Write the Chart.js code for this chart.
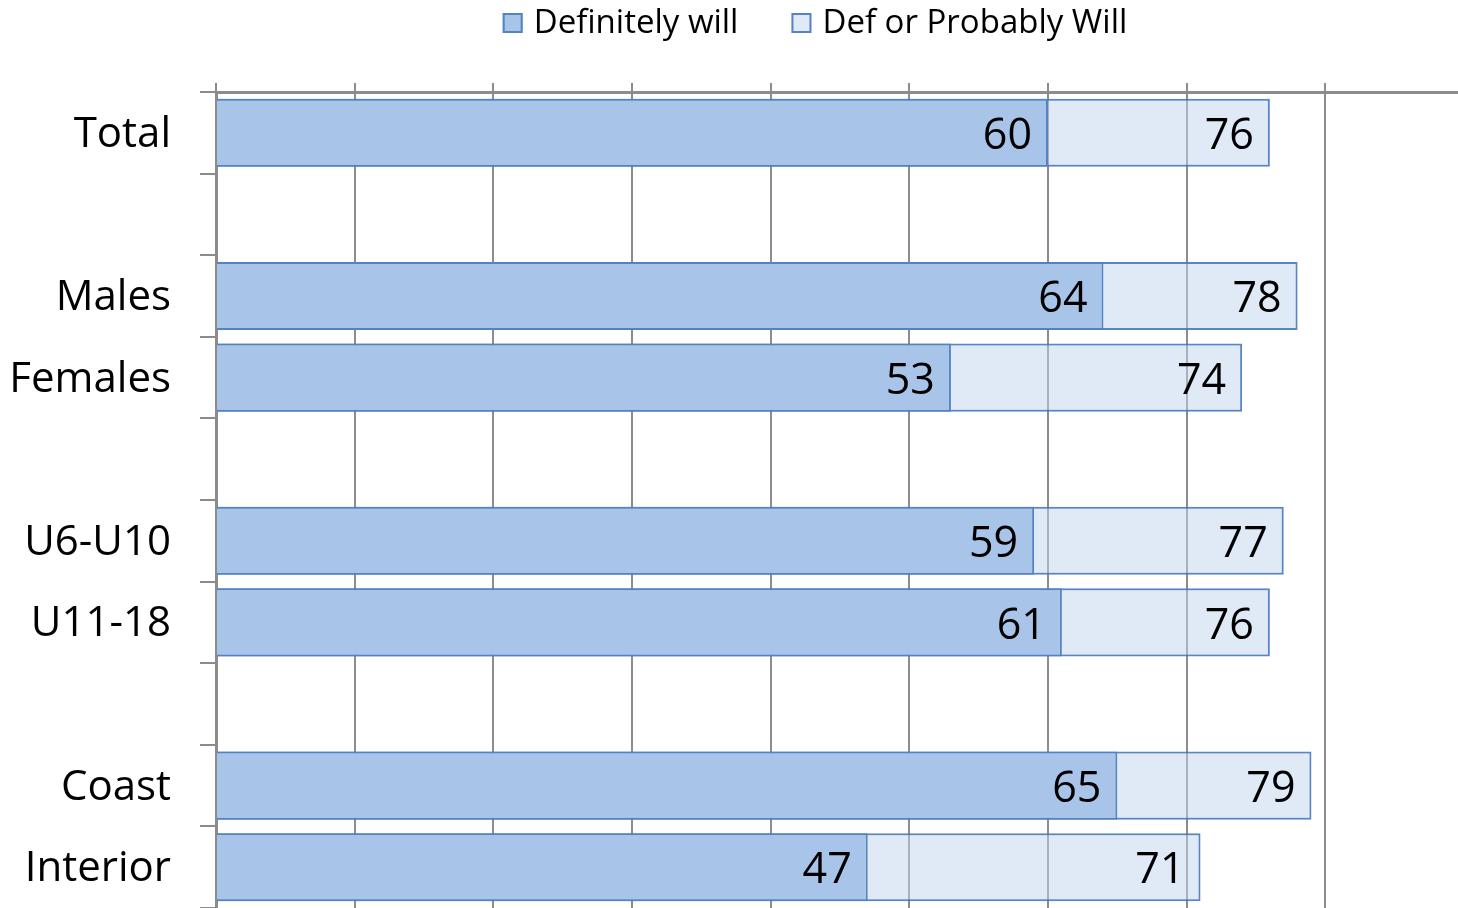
<!DOCTYPE html>
<html>
<head>
<meta charset="utf-8">
<script src="https://cdn.jsdelivr.net/npm/chart.js@4.4.1/dist/chart.umd.min.js"></script>
<style>
  html, body { margin: 0; padding: 0; background: #fff; overflow: hidden; }
  #wrap { position: relative; width: 1470px; height: 908px; }
</style>
</head>
<body>
<div id="wrap"><canvas id="chart"></canvas></div>
<script>
// blank entries are the spacer rows between groups
const categories = ["Total", "", "Males", "Females", "", "U6-U10", "U11-18", "", "Coast", "Interior"];
const definitelyWill = [60, null, 64, 53, null, 59, 61, null, 65, 47];
const defOrProbablyWill = [76, null, 78, 74, null, 77, 76, null, 79, 71];
const seriesNames = ["Definitely will", "Def or Probably Will"];
const axisMax = 90;
const axisStep = 10;

const theme = {
  font: "'Open Sans', sans-serif",
  dark: "#A9C4E9",
  light: "rgba(193, 213, 237, 0.5)",
  border: "#5283C2",
  borderLight: "rgba(72, 120, 190, 0.9)",
  grid: "#8C8C8C",
  text: "#000",
};

// value labels at the inner end of each bar
const barLabels = {
  id: "barLabels",
  afterDatasetsDraw(chart) {
    const ctx = chart.ctx;
    ctx.save();
    ctx.font = "43px " + theme.font;
    ctx.fillStyle = theme.text;
    ctx.textAlign = "right";
    ctx.textBaseline = "middle";
    chart.data.datasets.forEach((ds, i) => {
      chart.getDatasetMeta(i).data.forEach((bar, j) => {
        if (ds.data[j] == null) return;
        ctx.fillText(String(ds.data[j]), bar.x - 16, bar.y + 4);
      });
    });
    ctx.restore();
  },
};

// legend row above the plot, centred like the original
const topLegend = {
  id: "topLegend",
  afterDraw(chart) {
    const ctx = chart.ctx;
    const box = 20, textGap = 11, itemGap = 53, cx = 815, cy = 23;
    ctx.save();
    ctx.font = "33px " + theme.font;
    ctx.textBaseline = "middle";
    const items = chart.data.datasets.map((ds) => ({ ds, w: ctx.measureText(ds.label).width }));
    const total = items.reduce((s, it) => s + box + textGap + it.w, 0) + itemGap * (items.length - 1);
    let x = cx - total / 2;
    items.forEach((it) => {
      ctx.fillStyle = "#fff";
      ctx.fillRect(x, cy - box / 2, box, box);
      ctx.fillStyle = it.ds.backgroundColor;
      ctx.fillRect(x, cy - box / 2, box, box);
      ctx.strokeStyle = it.ds.borderColor;
      ctx.lineWidth = 2;
      ctx.strokeRect(x + 1, cy - box / 2 + 1, box - 2, box - 2);
      ctx.fillStyle = theme.text;
      ctx.fillText(it.ds.label, x + box + textGap, cy + 1);
      x += box + textGap + it.w + itemGap;
    });
    ctx.restore();
  },
};

new Chart(document.getElementById("chart"), {
  type: "bar",
  data: {
    labels: categories,
    datasets: [
      {
        label: seriesNames[0],
        data: definitelyWill,
        backgroundColor: theme.dark,
        borderColor: theme.border,
        borderWidth: 2,
        grouped: false,
        order: 0,
      },
      {
        label: seriesNames[1],
        data: defOrProbablyWill,
        backgroundColor: theme.light,
        borderColor: theme.borderLight,
        borderWidth: 2,
        grouped: false,
        order: 1,
      },
    ],
  },
  options: {
    indexAxis: "y",
    responsive: true,
    maintainAspectRatio: false,
    animation: false,
    categoryPercentage: 1,
    barPercentage: 0.835,
    layout: { padding: { top: 83, left: 0, right: 6, bottom: 0 } },
    plugins: {
      legend: { display: false },
      tooltip: { enabled: false },
    },
    scales: {
      x: {
        position: "top",
        min: 0,
        max: axisMax,
        ticks: { display: false, stepSize: axisStep },
        grid: { color: theme.grid, lineWidth: 2, tickLength: 9, drawTicks: true },
        border: { color: theme.grid, width: 3 },
        afterFit: (s) => { s.height = 9; },
      },
      y: {
        grid: {
          offset: true,
          drawOnChartArea: false,
          color: theme.grid,
          lineWidth: 2,
          tickLength: 16,
        },
        border: { color: theme.grid, width: 3 },
        ticks: {
          color: theme.text,
          padding: 29,
          labelOffset: 2,
          font: { family: theme.font, size: 42 },
        },
        afterFit: (s) => {
          s.width = 216;
          s.paddingTop = 0;
          s.paddingBottom = 0;
        },
      },
    },
  },
  plugins: [barLabels, topLegend],
});
</script>
</body>
</html>
